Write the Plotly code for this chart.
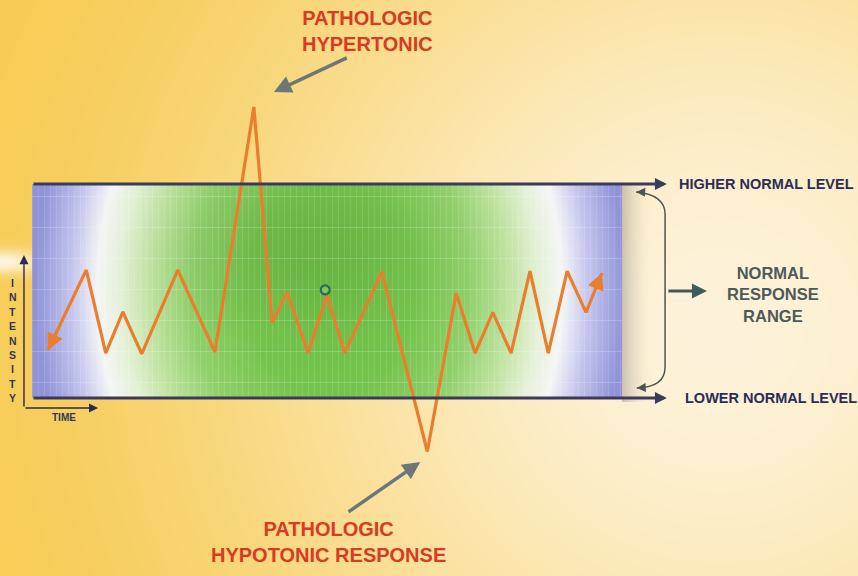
import base64, struct, zlib
import numpy as np
import plotly.graph_objects as go

# ---------------- data ----------------
# time in % of the observation window, intensity in % of the normal range
TIME = [2.7, 9.2, 12.5, 15.4, 18.6, 24.7, 31.0, 37.6, 40.7, 43.2, 46.8, 50.0,
        53.0, 59.3, 67.0, 71.9, 75.1, 78.1, 81.2, 84.4, 87.5, 90.7, 93.9, 96.6]
INTENSITY = [22.4, 59.8, 21.0, 40.2, 20.6, 59.8, 21.5, 136.0, 35.0, 49.5, 21.0, 48.0,
             21.0, 59.0, -25.0, 49.0, 21.0, 40.0, 21.0, 59.3, 21.0, 59.3, 40.0, 58.4]
LOWER_NORMAL = 0
HIGHER_NORMAL = 100
WINDOW_START, WINDOW_END = 0, 100
MARKER_TIME, MARKER_INTENSITY = 49.7, 50.5

LABEL_HIGH = "HIGHER NORMAL LEVEL"
LABEL_LOW = "LOWER NORMAL LEVEL"
LABEL_RANGE = ["NORMAL", "RESPONSE", "RANGE"]
LABEL_HYPER = ["PATHOLOGIC", "HYPERTONIC"]
LABEL_HYPO = ["PATHOLOGIC", "HYPOTONIC RESPONSE"]
AXIS_Y_TITLE = "INTENSITY"
AXIS_X_TITLE = "TIME"

W, H = 858, 576
X_RANGE = [-5.4237, 140.0]
Y_RANGE = [-83.18, 185.98]

FONT = "Liberation Sans, Arial, Helvetica, sans-serif"
ORANGE = "#EA7E2E"
RED = "#D73B21"
NAVY = "#2C2C56"
GREY_ARROW = "#6E7777"
TEAL = "#3E5A5A"


def hex2rgb(h):
    h = h.lstrip("#")
    return np.array([int(h[i:i + 2], 16) for i in (0, 2, 4)], dtype=float)


def png_uri(rgb):
    rgb = np.clip(rgb, 0, 255).astype(np.uint8)
    h, w, _ = rgb.shape
    raw = b"".join(b"\x00" + rgb[i].tobytes() for i in range(h))

    def chunk(tag, data):
        c = struct.pack(">I", len(data)) + tag + data
        return c + struct.pack(">I", zlib.crc32(tag + data) & 0xFFFFFFFF)

    png = (b"\x89PNG\r\n\x1a\n"
           + chunk(b"IHDR", struct.pack(">IIBBBBB", w, h, 8, 2, 0, 0, 0))
           + chunk(b"IDAT", zlib.compress(raw, 9))
           + chunk(b"IEND", b""))
    return "data:image/png;base64," + base64.b64encode(png).decode()


def to_px_x(v):
    return (v - X_RANGE[0]) / (X_RANGE[1] - X_RANGE[0]) * W


def to_px_y(v):
    return (Y_RANGE[1] - v) / (Y_RANGE[1] - Y_RANGE[0]) * H


# ---------------- background texture ----------------
bx0, bx1 = to_px_x(WINDOW_START), to_px_x(WINDOW_END)
by0, by1 = to_px_y(HIGHER_NORMAL), to_px_y(LOWER_NORMAL)

XX, YY = np.meshgrid(np.arange(W) + 0.5, np.arange(H) + 0.5)
d = np.hypot(XX - 720, YY - 330)
t = np.clip(1 - d / 800, 0, 1)
s = (t * t * (3 - 2 * t))[..., None]
bg = hex2rgb("#F7CC56") * (1 - s) + hex2rgb("#FEF3DA") * s
glow = np.exp(-(((XX - 0) / 45) ** 2 + ((YY - 262) / 12) ** 2))[..., None]
bg = bg + (255 - bg) * 0.8 * glow
# shadow on the right of the box
sx = np.clip((XX - bx1) / 30.0, 0, 1)
inside = (XX >= bx1) & (YY >= by0) & (YY <= by1 + 4)
alpha = np.where(inside, 0.5 * (1 - sx) ** 1.8, 0)[..., None]
bg = bg * (1 - alpha) + hex2rgb("#96928C") * alpha
bg_uri = png_uri(bg)

# ---------------- box texture ----------------
BW, BH = int(round(bx1 - bx0)), int(round(by1 - by0))
px = np.arange(BW)[None, :] + 0.5
py = np.arange(BH)[:, None] + 0.5
r = np.sqrt(((px - 298) / 277) ** 2 + ((py - 106) / 360) ** 2)
stops = [0.0, 0.3, 0.5, 0.65, 0.76, 0.84, 0.93, 1.06]
cols = np.array([hex2rgb(c) for c in ["#6EC046", "#76C54E", "#92D16C", "#C2E4A3",
                                      "#E6F2DA", "#F5F6F6", "#C6C7EE", "#9195D8"]])
box = np.stack([np.interp(r, stops, cols[:, c]) for c in range(3)], -1)
blob = np.exp(-(((px - 270) / 120) ** 2 + ((py - 60) / 70) ** 2))[..., None]
box = box * (1 - 0.07 * blob)
pxi = np.arange(BW)[None, :].repeat(BH, 0)
pyi = np.arange(BH)[:, None].repeat(BW, 1)
vline = ((pxi % 6) == 0)[..., None]
hline = (((pyi - 12) % 31) == 0)[..., None]
box = np.where(vline, box + (255 - box) * 0.12, box)
box = np.where(hline, box + (255 - box) * 0.18, box)
box_uri = png_uri(box)

# ---------------- figure ----------------
fig = go.Figure()

fig.add_trace(go.Scatter(x=TIME, y=INTENSITY, mode="lines",
                         line=dict(color=ORANGE, width=3.2), hoverinfo="skip"))
fig.add_trace(go.Scatter(x=[MARKER_TIME], y=[MARKER_INTENSITY], mode="markers",
                         marker=dict(size=9, color="#7CC653",
                                     line=dict(color="#2D6A5A", width=2.2)),
                         hoverinfo="skip"))

ann = []


def arrow(xh, yh, xt, yt, color, width, head=2, size=1.0):
    ann.append(dict(x=xh, y=yh, ax=xt, ay=yt, xref="x", yref="y", axref="x", ayref="y",
                    text="", showarrow=True, arrowhead=head, arrowsize=size,
                    arrowwidth=width, arrowcolor=color, standoff=0, startstandoff=0))


def label(x, y, text, size, color, xanchor="center"):
    ann.append(dict(x=x, y=y, xref="x", yref="y", text=text, showarrow=False,
                    xanchor=xanchor, yanchor="middle",
                    font=dict(family=FONT, size=size, color=color)))


# arrowheads on the response line
for i0, i1 in [(0, 1), (-1, -2)]:
    xh, yh = TIME[i0], INTENSITY[i0]
    xt = xh + 0.3 * (TIME[i1] - xh)
    yt = yh + 0.3 * (INTENSITY[i1] - yh)
    arrow(xh, yh, xt, yt, ORANGE, 3, head=2, size=1.1)

# normal level lines
LEVEL_END = 107.6
arrow(LEVEL_END, HIGHER_NORMAL, WINDOW_START, HIGHER_NORMAL, "#3A3A5E", 2.8, head=2, size=0.85)
arrow(LEVEL_END, LOWER_NORMAL, WINDOW_START, LOWER_NORMAL, "#3A3A5E", 2.8, head=2, size=0.85)
label(LEVEL_END + 1.7, HIGHER_NORMAL, "<b>" + LABEL_HIGH + "</b>", 14.5, NAVY, "left")
label(LEVEL_END + 2.7, LOWER_NORMAL, "<b>" + LABEL_LOW + "</b>", 14.5, NAVY, "left")

# brace
BR_IN, BR_OUT = 102.4, 107.3
fig.add_shape(type="path", xref="x", yref="y",
              path=(f"M {BR_IN},{HIGHER_NORMAL - 3.7} Q {BR_OUT},{HIGHER_NORMAL - 5} {BR_OUT},{HIGHER_NORMAL - 14} "
                    f"L {BR_OUT},{LOWER_NORMAL + 14.5} Q {BR_OUT},{LOWER_NORMAL + 5} {BR_IN + 0.1},{LOWER_NORMAL + 4.7}"),
              line=dict(color="#4A5656", width=1.5))
arrow(BR_IN, HIGHER_NORMAL - 3.7, BR_IN + 1.5, HIGHER_NORMAL - 3.9, "#4A5656", 1.5, head=2, size=1.2)
arrow(BR_IN + 0.1, LOWER_NORMAL + 4.7, BR_IN + 1.6, LOWER_NORMAL + 4.9, "#4A5656", 1.5, head=2, size=1.2)

mid = (HIGHER_NORMAL + LOWER_NORMAL) / 2
arrow(114.4, mid, BR_OUT + 0.3, mid, TEAL, 3, head=2, size=1.0)
label(125.6, mid - 1.5, "<b>" + "<br>".join(LABEL_RANGE) + "</b>", 16.5, "#4E5A5A")

# pathologic labels
ipk = int(np.argmax(INTENSITY))
itr = int(np.argmin(INTENSITY))
label(56.8, 171.7, "<b>" + "<br>".join(LABEL_HYPER) + "</b>", 20, RED)
arrow(TIME[ipk] + 3.4, INTENSITY[ipk] + 7.0, 53.6, 159.3, GREY_ARROW, 3.5, head=2, size=1.0)
label(50.3, -67.5, "<b>" + "<br>".join(LABEL_HYPO) + "</b>", 20, RED)
arrow(TIME[itr] - 1.2, INTENSITY[itr] - 4.9, 53.4, -53.7, GREY_ARROW, 3.5, head=2, size=1.0)

# small intensity/time axes
AX_X, AX_Y = -1.36, -4.67
arrow(AX_X, 66.8, AX_X, AX_Y, "#2C2C4C", 1.4, head=2, size=1.3)
arrow(11.2, AX_Y, AX_X, AX_Y, "#2C2C4C", 1.4, head=2, size=1.3)
n = len(AXIS_Y_TITLE)
for k, ch in enumerate(AXIS_Y_TITLE):
    label(-3.25, 53.7 - k * 53.7 / (n - 1), "<b>" + ch + "</b>", 10.5, "#34345A")
label(5.4, -9.3, "<b>" + AXIS_X_TITLE + "</b>", 10, "#34345A")

fig.update_layout(
    width=W, height=H, margin=dict(l=0, r=0, t=0, b=0),
    paper_bgcolor="#FCE9B8", plot_bgcolor="rgba(0,0,0,0)",
    showlegend=False,
    xaxis=dict(range=X_RANGE, visible=False, fixedrange=True),
    yaxis=dict(range=Y_RANGE, visible=False, fixedrange=True),
    images=[
        dict(source=bg_uri, xref="paper", yref="paper", x=0, y=1, sizex=1, sizey=1,
             xanchor="left", yanchor="top", sizing="stretch", layer="below"),
        dict(source=box_uri, xref="x", yref="y", x=WINDOW_START, y=HIGHER_NORMAL,
             sizex=WINDOW_END - WINDOW_START, sizey=HIGHER_NORMAL - LOWER_NORMAL,
             xanchor="left", yanchor="top", sizing="stretch", layer="below"),
    ],
    annotations=ann,
)

fig.write_html("out.html", config=dict(displayModeBar=False),
               post_script="document.body.style.margin='0';document.body.style.overflow='hidden';")
